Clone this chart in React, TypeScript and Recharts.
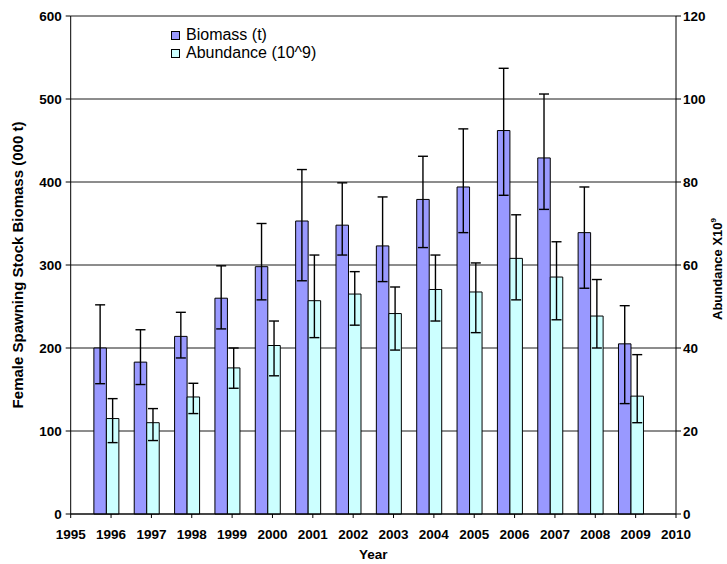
import React from "react";
import {
  Bar,
  BarChart,
  CartesianGrid,
  ErrorBar,
  Legend,
  XAxis,
  YAxis,
} from "recharts";

// Survey years and the values for each series
const years = [1996, 1997, 1998, 1999, 2000, 2001, 2002, 2003, 2004, 2005, 2006, 2007, 2008, 2009];
const biomass = [200, 183, 214, 260, 298, 353, 348, 323, 379, 394, 462, 429, 339, 205];
const biomassLow = [157, 156, 188, 223, 258, 281, 312, 280, 321, 339, 384, 367, 272, 133];
const biomassHigh = [252, 222, 243, 299, 350, 415, 399, 382, 431, 464, 537, 506, 394, 251];
const abundance = [23.0, 22.0, 28.2, 35.2, 40.6, 51.4, 53.0, 48.3, 54.1, 53.5, 61.6, 57.1, 47.7, 28.4];
const abundanceLow = [17.2, 17.7, 24.2, 30.3, 33.3, 42.5, 45.5, 39.5, 46.5, 43.7, 51.6, 46.8, 40.0, 22.0];
const abundanceHigh = [27.8, 25.4, 31.5, 40.0, 46.5, 62.4, 58.4, 54.7, 62.4, 60.5, 72.1, 65.6, 56.5, 38.4];

const seriesNames = ["Biomass (t)", "Abundance (10^9)"];

// Axis ticks
const yearTicks = [1995, 1996, 1997, 1998, 1999, 2000, 2001, 2002, 2003, 2004, 2005, 2006, 2007, 2008, 2009, 2010];
const biomassTicks = [0, 100, 200, 300, 400, 500, 600];
const abundanceTicks = [0, 20, 40, 60, 80, 100, 120];

const data = years.map((year, i) => ({
  year,
  biomass: biomass[i],
  biomassErr: [biomass[i] - biomassLow[i], biomassHigh[i] - biomass[i]],
  abundance: abundance[i],
  abundanceErr: [abundance[i] - abundanceLow[i], abundanceHigh[i] - abundance[i]],
}));

const FONT = "'Liberation Sans', Arial, sans-serif";
const tickStyle = { fill: "#000", fontSize: 13.5, fontWeight: "bold", fontFamily: FONT };

const renderLegend = ({ payload }: any) => {
  const items = (payload || [])
    .filter((p: any) => seriesNames.includes(p.value))
    .sort((a: any, b: any) => seriesNames.indexOf(a.value) - seriesNames.indexOf(b.value));
  return (
    <div style={{ fontFamily: FONT, fontSize: 16, lineHeight: "18px", color: "#000" }}>
      {items.map((p: any) => (
        <div key={p.value} style={{ display: "flex", alignItems: "center", whiteSpace: "nowrap" }}>
          <span
            style={{
              display: "inline-block",
              width: 7,
              height: 7,
              border: "1px solid #000",
              background: p.color,
              marginRight: 6,
            }}
          />
          {p.value}
        </div>
      ))}
    </div>
  );
};

const LeftTitle = ({ viewBox }: any) => {
  const x = 23;
  const y = viewBox.y + viewBox.height / 2;
  return (
    <text
      x={x}
      y={y}
      transform={`rotate(-90 ${x} ${y})`}
      textAnchor="middle"
      style={{ fontFamily: FONT, fontSize: 15, fontWeight: "bold", fill: "#000" }}
    >
      Female Spawning Stock Biomass (000 t)
    </text>
  );
};

const RightTitle = ({ viewBox }: any) => {
  const x = 722;
  const y = viewBox.y + viewBox.height / 2 + 4;
  return (
    <text
      x={x}
      y={y}
      transform={`rotate(-90 ${x} ${y})`}
      textAnchor="middle"
      style={{ fontFamily: FONT, fontSize: 13, fontWeight: "bold", fill: "#000" }}
    >
      Abundance X10
      <tspan fontSize={8} dy={-6}>9</tspan>
    </text>
  );
};

const BottomTitle = ({ viewBox }: any) => {
  const x = viewBox.x + viewBox.width / 2;
  return (
    <text
      x={x}
      y={559}
      textAnchor="middle"
      style={{ fontFamily: FONT, fontSize: 13.5, fontWeight: "bold", fill: "#000" }}
    >
      Year
    </text>
  );
};

export default function App() {
  return (
    <div style={{ position: "absolute", left: 0, top: 0 }}>
      <BarChart
        width={727}
        height={564}
        data={data}
        margin={{ top: 16, right: 0, bottom: 0, left: 0 }}
        barGap={0}
        style={{ fontFamily: FONT }}
      >
        <CartesianGrid yAxisId="left" vertical={false} stroke="#1a1a1a" strokeWidth={1} />
        <XAxis
          dataKey="year"
          type="number"
          domain={[1995, 2010]}
          ticks={yearTicks}
          interval={0}
          height={50}
          tickSize={4}
          tickMargin={11}
          tick={tickStyle}
          axisLine={{ stroke: "#000" }}
          tickLine={{ stroke: "#000" }}
          label={{ content: BottomTitle }}
        />
        <YAxis
          yAxisId="left"
          domain={[0, 600]}
          ticks={biomassTicks}
          width={70.7}
          tickSize={5}
          tickMargin={4}
          tick={tickStyle}
          axisLine={{ stroke: "#000" }}
          tickLine={{ stroke: "#000" }}
          label={{ content: LeftTitle }}
        />
        <YAxis
          yAxisId="right"
          orientation="right"
          domain={[0, 120]}
          ticks={abundanceTicks}
          width={51}
          tickSize={5}
          tickMargin={2}
          tick={tickStyle}
          axisLine={{ stroke: "#000" }}
          tickLine={{ stroke: "#000" }}
          label={{ content: RightTitle }}
        />
        <Legend
          layout="vertical"
          align="center"
          verticalAlign="middle"
          content={renderLegend}
          wrapperStyle={{ left: 171, top: 26, width: "auto" }}
        />
        <Bar
          yAxisId="left"
          dataKey="biomass"
          name={seriesNames[0]}
          fill="#9999FF"
          stroke="#000"
          strokeWidth={1}
          barSize={12.5}
          isAnimationActive={false}
        >
          <ErrorBar dataKey="biomassErr" width={5} stroke="#000" strokeWidth={1.4} direction="y" />
        </Bar>
        <Bar
          yAxisId="right"
          dataKey="abundance"
          name={seriesNames[1]}
          fill="#CCFFFF"
          stroke="#000"
          strokeWidth={1}
          barSize={12.5}
          isAnimationActive={false}
        >
          <ErrorBar dataKey="abundanceErr" width={5} stroke="#000" strokeWidth={1.4} direction="y" />
        </Bar>
        {/* empty slot so each abundance bar sits centred on its year tick */}
        <Bar
          yAxisId="left"
          dataKey="slot"
          fill="none"
          stroke="none"
          barSize={10}
          legendType="none"
          isAnimationActive={false}
        />
      </BarChart>
    </div>
  );
}
